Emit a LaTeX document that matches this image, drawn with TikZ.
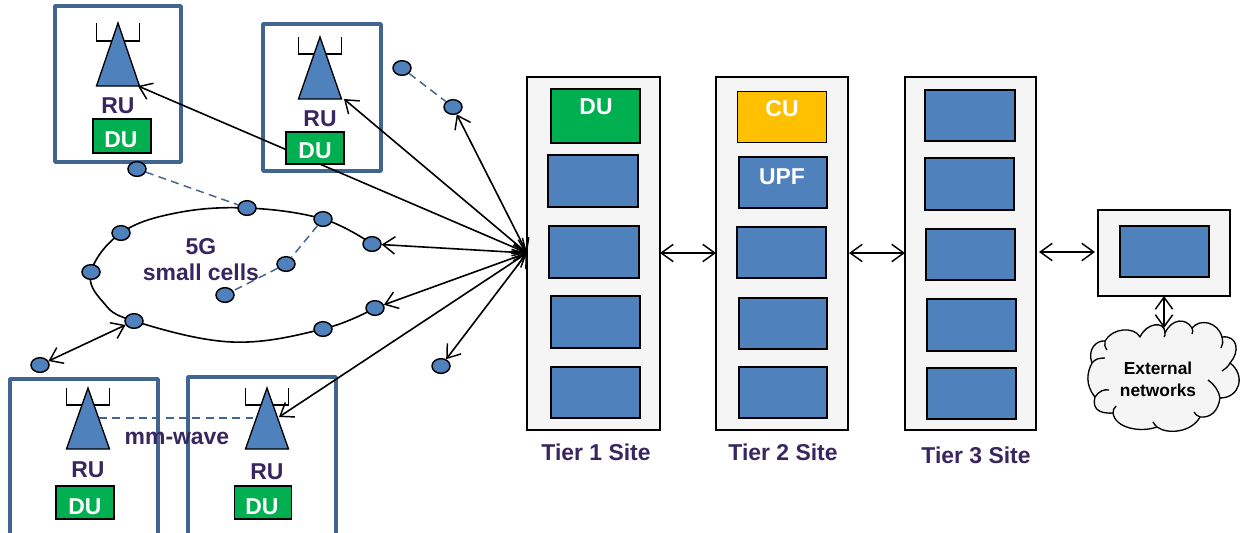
\documentclass[tikz,border=0pt]{standalone}
\usepackage{fontspec}
\setmainfont{Liberation Sans}
\usetikzlibrary{arrows.meta,shapes.geometric}
\definecolor{rubox}{HTML}{41658F}
\definecolor{dotblue}{HTML}{4F81BD}
\definecolor{dugreen}{HTML}{00B050}
\definecolor{cuamber}{HTML}{FFC000}
\definecolor{sitegrey}{HTML}{F5F5F5}
\definecolor{labelpurple}{HTML}{37265F}
\tikzset{
  x=0.75pt,y=-0.75pt,
  sitebox/.style={draw=black,line width=1.1pt,fill=sitegrey},
  slot/.style={draw=black,line width=1.1pt,fill=dotblue},
  greenbox/.style={draw=black,line width=1.1pt,fill=dugreen},
  amberbox/.style={draw=black,line width=0.6pt,fill=cuamber},
  rubound/.style={draw=rubox,line width=2.6pt,line join=round},
  mast/.style={draw=black,line width=1pt,fill=dotblue,line join=miter},
  antenna/.style={draw=black,line width=1pt},
  dot/.style={ellipse,draw=black,line width=1.1pt,fill=dotblue,minimum width=13.5pt,minimum height=11pt,inner sep=0pt},
  link/.style={draw=black,line width=1.2pt,{Straight Barb[length=9pt,width=13pt,line width=1.1pt]}-{Straight Barb[length=9pt,width=13pt,line width=1.1pt]}},
  wave/.style={draw=rubox,line width=1.1pt,dash pattern=on 6pt off 4pt},
  ring/.style={draw=black,line width=1.2pt},
  lab/.style={font=\bfseries\fontsize{17.2}{20}\selectfont,text=labelpurple,inner sep=0pt,align=center},
  boxlab/.style={font=\bfseries\fontsize{17.2}{20}\selectfont,text=white,inner sep=0pt},
  cloudlab/.style={font=\bfseries\fontsize{13}{16.5}\selectfont,text=black,inner sep=0pt,align=center},
}
\newcommand{\sitefill}[5]{\path[#1] (#2,#3) rectangle (#4,#5);}
\newcommand{\radiomast}[4]{% apex x, apex y, base y, bracket y
  \draw[antenna] (#1-21.5,#2) -- (#1-21.5,#4) -- (#1+21.5,#4) -- (#1+21.5,#2);
  \path[mast] (#1,#2) -- (#1+21.5,#3) -- (#1-21.5,#3) -- cycle;
}
\begin{document}
\begin{tikzpicture}
\useasboundingbox (0,0) rectangle (1241,532);
\fill[white] (0,0) rectangle (1241,532);

% sites
\sitefill{sitebox}{527}{77}{660}{430}
\sitefill{sitebox}{716}{77}{848}{430}
\sitefill{sitebox}{905}{77}{1036}{430}
\sitefill{sitebox}{1098}{210}{1230}{296}
\sitefill{greenbox}{551}{89}{640}{143}
\sitefill{slot}{548}{155}{638}{207}
\sitefill{slot}{549}{226}{639}{278}
\sitefill{slot}{551}{296}{640}{348}
\sitefill{slot}{551}{367}{640}{418}
\sitefill{amberbox}{737}{91}{826}{142}
\sitefill{slot}{739}{157}{827}{208}
\sitefill{slot}{737}{227}{826}{278}
\sitefill{slot}{739}{298}{827}{349}
\sitefill{slot}{739}{367}{827}{418}
\sitefill{slot}{925}{90}{1015}{141}
\sitefill{slot}{925}{158}{1014}{210}
\sitefill{slot}{926}{229}{1015}{280}
\sitefill{slot}{927}{299}{1016}{351}
\sitefill{slot}{927}{368}{1016}{419}
\sitefill{slot}{1120}{226}{1209}{277}

\node[boxlab] (dut) at (596,107) {DU};
\node[boxlab] (cut) at (782,109) {CU};
\node[boxlab] (upf) at (782,177) {UPF};
\node[lab] (t1) at (596,452) {Tier 1 Site};
\node[lab] (t2) at (783,452) {Tier 2 Site};
\node[lab] (t3) at (976,455) {Tier 3 Site};

% RU sites
\path[rubound] (55,6) rectangle (181,162);
\path[rubound] (263,24) rectangle (381,171);
\path[rubound] (10,379) rectangle (158,540);
\path[rubound] (188,377) rectangle (336,540);
\radiomast{118}{23}{86}{41}
\radiomast{320}{37}{99}{54}
\radiomast{88}{388}{449}{405}
\radiomast{267}{388}{449}{405}

% connector ends
\coordinate (hub) at (527,253);
\coordinate (ru1tip) at (138,86);
\coordinate (ru2tip) at (344,99);
\coordinate (ru4tip) at (279,417);
\coordinate (m1) at (99,418);
\coordinate (m2) at (253,418);
\coordinate (s1r) at (660,253);
\coordinate (s2l) at (716,253);
\coordinate (s2r) at (849,253);
\coordinate (s3l) at (905,253);
\coordinate (s3r) at (1039,252);
\coordinate (s4l) at (1095,252);
\coordinate (s4b) at (1164,296);
\coordinate (cl) at (1164,328);

% ring, through the places of its dots
\coordinate (p1) at (247,208);
\coordinate (p2) at (323,219);
\coordinate (p3) at (372,244);
\coordinate (p4) at (121,233);
\coordinate (p5) at (91,272);
\coordinate (p6) at (134,321);
\coordinate (p7) at (323,329);
\coordinate (p8) at (375,308);
\coordinate (q1) at (176,213);
\coordinate (q2) at (103,302);
\coordinate (q3) at (232,342);
\draw[ring] plot[smooth,tension=0.65] coordinates {(p3) (p2) (p1) (q1) (p4) (p5) (q2) (p6) (q3) (p7) (p8)};

% dots
\node[dot] (d1) at (402,68) {};
\node[dot] (d2) at (453,107) {};
\node[dot] (d3) at (137,169) {};
\node[dot] (r1) at (p1) {};
\node[dot] (r2) at (p2) {};
\node[dot] (r3) at (p3) {};
\node[dot] (r4) at (p4) {};
\node[dot] (r5) at (p5) {};
\node[dot] (r6) at (p6) {};
\node[dot] (r7) at (p7) {};
\node[dot] (r8) at (p8) {};
\node[dot] (i1) at (286,264) {};
\node[dot] (i2) at (225,295) {};
\node[dot] (d4) at (40,365) {};
\node[dot] (d5) at (441,366) {};

% dashed links
\draw[wave] (d1) -- (d2);
\draw[wave] (d3) -- (r1);
\draw[wave] (r2) -- (i1);
\draw[wave] (i1) -- (i2);
\draw[wave] (m1) -- (m2);

% arrows to the hub
\draw[link] (hub) -- (ru1tip);
\draw[link] (hub) -- (ru2tip);
\draw[link] (hub) -- (d2);
\draw[link] (hub) -- (r3);
\draw[link] (hub) -- (r8);
\draw[link] (hub) -- (ru4tip);
\draw[link] (hub) -- (d5);
\draw[link] (r6) -- (d4);
\draw[link] (s1r) -- (s2l);
\draw[link] (s2r) -- (s3l);
\draw[link] (s3r) -- (s4l);

% DU boxes sit over the arrows
\sitefill{greenbox}{93}{119}{151}{153}
\sitefill{greenbox}{286}{132}{344}{164}
\sitefill{greenbox}{56}{486}{114}{519}
\sitefill{greenbox}{234.5}{486}{291.5}{519}
\node[boxlab] (du1) at (121,140) {DU};
\node[boxlab] (du2) at (315,151) {DU};
\node[boxlab] (du3) at (85,507) {DU};
\node[boxlab] (du4) at (262,507) {DU};
\node[lab] (ru1) at (118,106) {RU};
\node[lab] (ru2) at (320,119) {RU};
\node[lab] (ru3) at (88,470) {RU};
\node[lab] (ru4) at (267,472) {RU};
\node[lab] (mm) at (177,438) {mm-wave};
\node[lab] (sc) at (201,259.5) {5G\\small cells};

% cloud
\draw[draw=black,line width=1pt,fill=sitegrey,line join=round]
 (1140,337) .. controls (1146,323) and (1165,320) .. (1165,333)
 .. controls (1172,318) and (1186,318) .. (1192,328)
 .. controls (1200,318) and (1218,322) .. (1222,337)
 .. controls (1238,335) and (1240,352) .. (1230,363)
 .. controls (1246,375) and (1240,398) .. (1220,398)
 .. controls (1218,412) and (1210,418) .. (1200,417)
 .. controls (1192,432) and (1168,435) .. (1157,427)
 .. controls (1140,433) and (1115,428) .. (1113,413)
 .. controls (1098,414) and (1092,408) .. (1095,397)
 .. controls (1085,385) and (1087,372) .. (1092,363)
 .. controls (1087,350) and (1096,340) .. (1105,341)
 .. controls (1112,328) and (1134,326) .. (1140,337) -- cycle;
\draw[draw=black,line width=1pt]
 (1222,337) .. controls (1223,342) and (1223,345) .. (1221,348)
 (1230,363) .. controls (1228,367) and (1225,369) .. (1222,371)
 (1220,398) .. controls (1219,391) and (1214,384) .. (1208,380)
 (1200,417) .. controls (1197,416) and (1195,414) .. (1194,412)
 (1157,427) .. controls (1155,425) and (1154,424) .. (1153,422)
 (1113,413) .. controls (1113,410) and (1114,408) .. (1116,406)
 (1095,397) .. controls (1099,391) and (1104,389) .. (1109,390)
 (1092,363) .. controls (1095,359) and (1099,358) .. (1105,358)
 (1105,341) .. controls (1104,344) and (1105,347) .. (1107,350)
 (1165,333) .. controls (1165,335) and (1165,336) .. (1164,337)
 (1192,328) .. controls (1193,330) and (1193,332) .. (1192,334);
\node[cloudlab] (ext) at (1158,379) {External\\networks};
\draw[link] (s4b) -- (cl);
\end{tikzpicture}
\end{document}
